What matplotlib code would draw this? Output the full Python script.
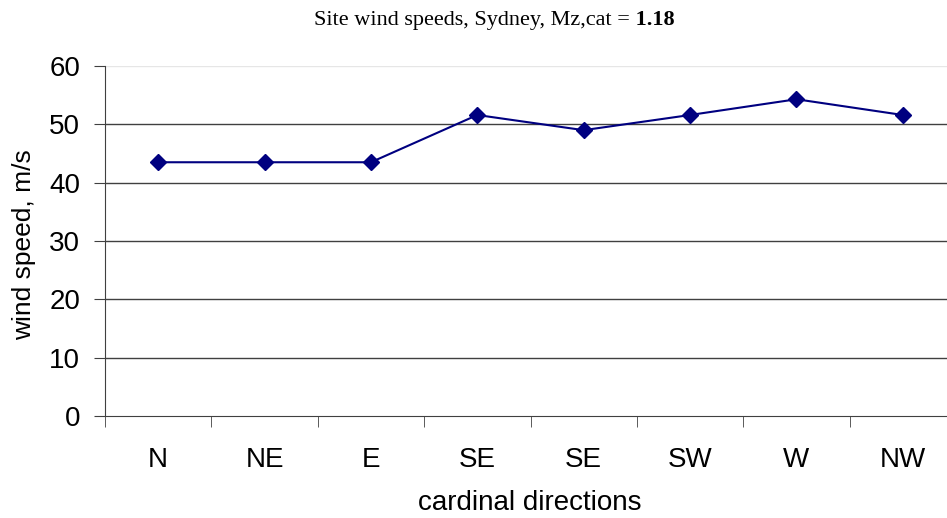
import matplotlib
matplotlib.use("Agg")
import matplotlib.pyplot as plt
import numpy as np

# wind speed per direction
directions = ["N", "NE", "E", "SE", "SE", "SW", "W", "NW"]
speeds = [43.5, 43.5, 43.5, 51.6, 49.0, 51.6, 54.3, 51.6]
yticks = [0, 10, 20, 30, 40, 50, 60]

fig = plt.figure(figsize=(9.47, 5.18), dpi=100)
ax = fig.add_axes([105 / 947, 102 / 518, 851 / 947, 350 / 518])

x = np.arange(len(directions))
ax.plot(x, speeds, color="#000080", lw=1.5, marker="D", markersize=8, zorder=3)

ax.set_xlim(-0.5, len(directions) - 0.5)
ax.set_ylim(0, 60)

# horizontal grid lines
for v in yticks[1:-1]:
    ax.axhline(v, color="#404040", lw=1, zorder=1)
ax.axhline(60, color="#e6e6e6", lw=1, zorder=1)

for side in ["top", "right"]:
    ax.spines[side].set_visible(False)
ax.spines["left"].set_color("#404040")
ax.spines["bottom"].set_color("#404040")

ax.set_yticks(yticks)
ax.tick_params(axis="y", direction="out", length=8, color="#404040",
               labelsize=20, pad=10)
ax.set_xticks(x)
ax.set_xticklabels(directions)
ax.set_xticks(np.arange(-0.5, len(directions)), minor=True)
ax.tick_params(axis="x", which="major", length=0, labelsize=20, pad=22)
ax.tick_params(axis="x", which="minor", direction="out", length=8, color="#404040")

for lbl in ax.get_xticklabels() + ax.get_yticklabels():
    lbl.set_fontfamily("Liberation Sans")

fig.text(24 / 947, 1 - 245 / 518, "wind speed, m/s", fontsize=19,
         family="Liberation Sans", rotation=90, ha="center", va="center")
fig.text(530 / 947, 1 - 503 / 518, "cardinal directions", fontsize=20,
         family="Liberation Sans", ha="center", va="center")

# title: plain text followed by bold value
tx, ty = 630 / 947, 1 - 20 / 518
fig.text(tx, ty, "Site wind speeds, Sydney, Mz,cat =", family="Liberation Serif",
         fontsize=16, ha="right", va="center")
fig.text(tx, ty, " 1.18", family="Liberation Serif", fontsize=16,
         fontweight="bold", ha="left", va="center")

fig.savefig("out.png", dpi=100)
